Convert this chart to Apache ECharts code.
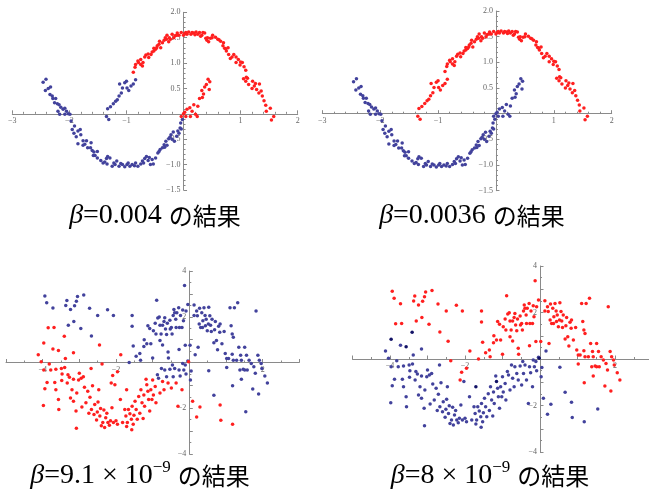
<!DOCTYPE html>
<html>
<head>
<meta charset="utf-8">
<script src="https://cdn.jsdelivr.net/npm/echarts@6/dist/echarts.min.js"></script>
<style>
  html, body { margin: 0; padding: 0; background: #fff; }
  #chart { width: 649px; height: 496px; }
</style>
</head>
<body>
<div id="chart"></div>
<script>
  // ---- top pair (same points, two clusterings) ----
  const upperMoonMain = [
    [-0.88,0.82],[-0.85,0.92],[-0.84,0.97],[-0.79,1.01],[-0.75,0.97],[-0.72,0.94],[-0.71,1.01],[-0.75,1.07],
    [-0.66,1.16],[-0.61,1.11],[-0.57,1.17],[-0.52,1.24],[-0.52,1.29],[-0.49,1.27],[-0.46,1.34],[-0.43,1.37],
    [-0.42,1.43],[-0.4,1.3],[-0.34,1.45],[-0.32,1.5],[-0.29,1.55],[-0.26,1.42],[-0.23,1.47],[-0.2,1.57],
    [-0.17,1.5],[-0.15,1.54],[-0.11,1.59],[-0.08,1.55],[-0.04,1.6],[0.02,1.58],[0.06,1.57],[0.09,1.61],
    [0.13,1.57],[0.18,1.59],[0.22,1.61],[0.25,1.57],[0.3,1.53],[0.34,1.6],[0.37,1.59],[0.39,1.49],
    [0.41,1.45],[0.44,1.42],[0.47,1.49],[0.51,1.55],[0.56,1.51],[0.65,1.43],[0.69,1.34],[0.72,1.29],
    [0.75,1.24],[0.78,1.3],[0.79,1.17],[0.82,1.09],[0.88,1.17],[0.92,1.01],[0.96,1.07],[0.99,0.96],
    [1.03,1.01],[1.06,0.93],[1.09,0.86],[1.05,0.69],[1.09,0.64],[1.14,0.58],[1.21,0.64],[1.24,0.55],
    [1.28,0.48],[1.33,0.59],[1.32,0.41],[1.38,0.35],[1.41,0.26],[1.44,0.17],[1.45,0.05],[1.52,0.11],
    [1.54,-0.12],[1.58,-0.05],[-0.3,1.47],[-0.12,1.55],[0.0,1.55],[0.15,1.6],[0.28,1.6],[0.42,1.5],
    [0.6,1.47],[0.7,1.4],[1.0,1.02],[1.1,0.72],[1.2,0.5],[0.85,1.12],[-0.62,1.18],[-0.55,1.22],[-0.37,1.4],
    [-0.8,1.04],[-0.68,1.12],[-0.47,1.3],[-0.25,1.5],[0.04,1.6],[0.2,1.56],[0.32,1.55],[0.5,1.5],
    [0.62,1.46],[0.74,1.28],[0.92,1.12],[1.12,0.7],[1.26,0.6],[1.36,0.45]
  ];
  const upperMoonTail = [
    [-1.35,-0.05],[-1.31,-0.11],[-1.33,0.1],[-1.28,0.14],[-1.23,0.2],[-1.19,0.25],[-1.16,0.28],[-1.13,0.35],
    [-1.09,0.41],[-1.12,0.59],[-1.07,0.51],[-1.03,0.61],[-1.0,0.64],[-0.99,0.51],[-0.96,0.46],[-0.92,0.55],
    [-0.88,0.59],[-0.84,0.67]
  ];
  const lowerMoonMain = [
    [-2.46,0.62],[-2.41,0.68],[-2.42,0.46],[-2.33,0.53],[-2.34,0.38],[-2.3,0.35],[-2.29,0.3],[-2.24,0.3],
    [-2.21,0.2],[-2.18,0.18],[-2.15,0.13],[-2.2,0.05],[-2.17,-0.01],[-2.11,0.09],[-2.08,0.11],[-2.05,0.05],
    [-2.02,0],[-2.08,-0.01],[-1.99,-0.01],[-1.97,-0.14],[-1.91,-0.24],[-1.95,-0.31],[-1.92,-0.38],[-1.85,-0.34],
    [-1.8,-0.41],[-1.81,-0.31],[-1.85,-0.59],[-1.76,-0.53],[-1.76,-0.62],[-1.7,-0.53],[-1.68,-0.67],[-1.63,-0.67],
    [-1.62,-0.57],[-1.57,-0.75],[-1.55,-0.82],[-1.51,-0.87],[-1.51,-0.74],[-1.58,-0.82],[-1.41,-0.97],[-1.35,-0.88],
    [-1.33,-0.84],[-1.29,-0.87],[-1.34,-0.99],[-1.25,-1.03],[-1.22,-0.97],[-1.17,-0.93],[-1.13,-1.03],[-1.07,-1.0],
    [-1.03,-1.04],[-0.99,-1.0],[-0.94,-1.03],[-0.9,-1.0],[-0.84,-0.97],[-0.8,-1.03],[-0.75,-0.99],[-0.72,-0.93],
    [-0.68,-0.88],[-0.65,-0.84],[-0.62,-0.92],[-0.58,-1.0],[-0.53,-0.99],[-0.49,-0.87],[-0.45,-0.77],[-0.41,-0.7],
    [-0.37,-0.67],[-0.34,-0.61],[-0.31,-0.54],[-0.29,-0.62],[-0.26,-0.49],[-0.22,-0.41],[-0.18,-0.36],[-0.16,-0.54],
    [-0.12,-0.44],[-0.1,-0.34],[-0.06,-0.28],[-0.05,-0.18],[-0.02,-0.11],
    [-1.45,-0.92],[-1.38,-0.95],[-1.2,-1.0],[-1.1,-0.98],[-0.97,-0.97],[-0.86,-1.02],[-0.7,-0.97],[-0.6,-0.86],
    [-0.55,-0.9],[-0.43,-0.74],[-0.33,-0.66],[-0.24,-0.46],[-0.2,-0.5],[-0.08,-0.38],[-0.04,-0.3],[-1.88,-0.45],
    [-1.73,-0.6],[-1.6,-0.72],[-2.26,0.22],[-2.37,0.5]
  ];
  const lowerMoonTail = [
    [-0.04,-0.05],[0,0],[0.02,0.03],[0.04,-0.05],[0.06,0.09],[0.11,0.12],[0.15,0.05],[0.18,0.18],
    [0.21,-0.01],[0.25,0.15],[0.28,0.3],[0.33,0.32],[0.35,0.39],[0.32,0.46],[0.37,0.53],[0.4,0.58],
    [0.45,0.48],[0.43,0.68],[0.46,0.63],[0.12,-0.05],[0.24,-0.05]
  ];

  // ---- bottom pair (same points, colours mostly swapped) ----
  const upperCloud = [
    [-3.94,2.91],[-3.89,2.61],[-3.72,2.38],[-3.34,2.71],[-3.37,2.49],[-3.24,2.32],[-3.13,2.48],[-3.05,2.88],
    [-3.08,2.68],[-2.88,2.95],[-3.15,1.79],[-3.3,1.63],[-2.96,1.49],[-2.72,2.37],[-2.67,1.16],[-2.5,2.06],
    [-2.23,2.31],[-2.07,2.06],[-1.56,2.06],[-1.56,1.59],
    [-1.64,0],[-1.53,0.72],[-1.45,0.27],[-1.35,0.39],[-1.33,0.1],[-1.24,0.7],[-1.23,1.0],[-1.13,1.61],
    [-1.16,0.82],[-1.08,1.49],[-1.05,0.82],[-1.0,0.2],[-0.98,1.39],[-0.93,1.72],[-0.91,1.25],[-0.89,2.72],
    [-0.86,1.94],[-0.82,1.99],[-0.8,1.63],[-0.8,0.96],[-0.77,1.25],[-0.73,0.77],[-0.73,1.63],[-0.69,1.79],
    [-0.67,1.96],[-0.65,1.46],[-0.62,1.22],[-0.6,1.72],[-0.58,0.46],[-0.57,0.2],[-0.53,1.85],[-0.52,1.46],
    [-0.49,1.53],[-0.47,1.25],[-0.44,2.06],[-0.42,2.32],[-0.4,2.18],[-0.37,1.89],[-0.36,1.53],[-0.34,2.18],
    [-0.29,2.39],[-0.28,0.57],[-0.27,1.53],[-0.24,2.06],[-0.2,1.53],[-0.18,2.29],[-0.16,1.82],[-0.13,3.37],
    [-0.11,0.75],[-0.09,2.25],[-0.04,2.54],[0.02,0.75],
    [0.13,2.06],[0.13,2.51],[0.2,2.25],[0.22,2.04],[0.24,0.67],[0.27,1.68],[0.28,2.37],[0.31,1.53],
    [0.34,2.18],[0.36,1.53],[0.37,1.82],[0.4,2.39],[0.43,2.06],[0.44,1.61],[0.46,1.89],[0.49,1.39],
    [0.52,1.68],[0.53,2.42],[0.56,2.04],[0.58,1.63],[0.6,1.36],[0.62,1.89],[0.67,0.86],[0.69,1.43],
    [0.71,1.79],[0.74,0.96],[0.77,0.56],[0.8,1.58],[0.83,1.32],[0.84,1.68],[0.89,0.82],[0.95,1.36],
    [0.98,0.39],[1.02,0.17],[1.02,-0.22],[1.07,0.17],[1.11,2.39],[1.14,1.61],[1.17,1.25],[1.2,1.1],
    [1.17,0.36],[1.2,0.1],[1.23,2.39],[1.29,0.1],[1.32,2.61],[1.35,0.67],[1.4,0.32],[1.42,0.1],
    [1.42,-0.73],[1.38,-0.33],[1.47,-0.3],[1.51,0.67],[1.51,-0.33],[1.56,0.32],[1.58,-0.33],[1.63,0.1],
    [1.69,-0.04],[1.73,-1.16],[1.76,-0.19],[1.8,-0.47],[1.82,2.25],[1.87,0.32],[1.89,-1.38],[1.91,0.1],
    [1.96,-0.04],[1.98,-0.26],[2.06,-0.59],[2.13,-0.9],[1.18,-1.02]
  ];
  const lowerCloud = [
    [-4.12,0.34],[-4.04,0.03],[-3.72,0.59],[-3.16,0.43],[-3.38,0.17],[-3.97,-0.33],[-3.78,-0.33],[-3.64,-0.3],
    [-3.49,-0.26],[-3.4,-0.22],[-3.82,-0.07],[-3.88,-0.87],[-3.94,-1.15],[-3.98,-1.88],[-3.67,-0.87],[-3.64,-1.19],
    [-3.57,-1.62],[-3.56,-2.05],[-3.48,-0.79],[-3.47,-0.5],[-3.31,-0.54],[-3.33,-0.9],[-3.27,-0.65],[-3.24,-1.55],
    [-3.2,-1.19],[-3.16,-1.69],[-3.16,-0.73],[-3.09,-2.12],[-3.08,-2.87],[-3.07,-1.33],[-3.02,-0.76],[-3.0,-0.47],
    [-2.95,-0.69],[-2.93,-1.94],[-2.89,-0.62],[-2.86,-1.08],[-2.82,-1.76],[-2.77,-1.26],[-2.74,-2.22],[-2.71,-1.52],
    [-2.68,-0.26],[-2.67,-2.05],[-2.64,-1.02],[-2.6,-2.27],[-2.58,-1.84],[-2.53,-2.51],[-2.51,-2.16],[-2.49,-1.73],
    [-2.47,-1.19],[-2.44,-2.34],[-2.42,-2.01],[-2.4,-2.77],[-2.36,-2.62],[-2.33,-2.08],[-2.31,-2.84],[-2.28,-2.41],
    [-2.25,-2.22],[-2.22,-2.62],[-2.18,-2.74],[-2.15,-2.55],[-2.11,-1.98],[-2.07,-2.62],[-2.03,-0.97],[-2.0,-2.55],
    [-1.96,-2.7],[-1.88,-1.62],[-1.82,-2.62],[-1.76,-2.05],[-1.73,-2.34],[-1.71,-2.8],[-1.69,-2.62],[-1.66,-2.05],
    [-1.62,-2.24],[-1.58,-2.48],[-1.57,-2.94],[-1.56,-1.91],[-1.53,-2.7],[-1.51,-2.31],[-1.48,-1.69],[-1.45,-2.05],
    [-1.42,-2.48],[-1.38,-1.49],[-1.35,-2.22],[-1.32,-1.19],[-1.29,-1.76],[-1.26,-2.45],[-1.24,-1.42],[-1.22,-1.91],
    [-1.18,-0.73],[-1.13,-1.26],[-1.11,-1.62],[-1.08,-2.12],[-1.05,-1.19],[-1.02,-1.62],[-1.0,-0.76],[-0.98,-1.42],
    [-0.93,-1.05],[-0.91,-1.76],[-0.8,-1.33],[-0.73,-0.83],[-0.69,-1.19],[-0.58,-0.9],[-0.49,-1.12],[-0.36,-0.9],
    [-0.31,-1.91],[-0.2,-1.19],[0.09,-1.69],[0.2,-2.38],[0.29,-1.95],[0.84,-1.86],[0.86,-2.52],[1.18,-2.7]
  ];
  const bothRed = [
    [-3.85,1.52],[-3.69,1.53],[-2.45,0.76],[-1.87,0.34],[-2.38,-0.07],[-2.09,-0.57],[-2.13,-0.9],[-1.96,-0.4]
  ];
  const bothBlue = [
    [-0.87,-0.54],[-0.84,-0.69],[-0.76,-0.26],[-0.67,-0.33],[-0.62,-0.62],[-0.53,-0.3],[-0.46,-0.11],[-0.44,-0.62],
    [-0.4,-0.26],[-0.28,-0.33],[-0.25,-0.59],[-0.18,-0.04],[-0.15,-0.33],[-0.11,-0.11],[-0.09,-0.5],[-0.04,0.07],
    [0.03,-0.76],[0.05,-0.37],[0.16,0.34],[0.53,-0.36],[0.67,-1.43],[1.54,-2.15]
  ];
  const navyPts = [
    [-3.41,1.15],[-3.97,0.85],[-3.57,0.53],[-0.02,0.03],[-1.71,-1.19],[-1.16,-0.97]
  ];

  const captions = [
    '{b|β}{n|=0.004 }{j|の結果}',
    '{b|β}{n|=0.0036 }{j|の結果}',
    '{b|β}{n|=9.1 × 10}{s|−9}{n| }{j|の結果}',
    '{b|β}{n|=8 × 10}{s|−9}{n| }{j|の結果}'
  ];

  const RED = '#ff1f1f';
  const BLUE = '#42429c';
  const NAVY = '#121266';
  const AXIS = '#8a8a8a';
  const SERIF = "'Liberation Serif', 'DejaVu Serif', serif";

  const minus = (s) => String(s).replace('-', '−');
  const fmtTop = (v) => (v === 0 ? '' : minus(v));
  const fmtTopY = (v) => (v === 0 ? '' : minus(v.toFixed(1)));
  const fmtEven = (v) => (v !== 0 && v % 2 === 0 ? minus(v) : '');

  // grid boxes [left, top, width, height] and axis ranges
  const boxes = [
    [12.3, 12.3, 285.4, 177.7],
    [322.3, 11, 289.4, 179.7],
    [6, 271, 293.3, 183],
    [352.5, 266, 300, 186],
  ];
  const xr = [[-3, 2, 1, 5, fmtTop], [-3, 2, 1, 5, fmtTop], [-5, 3, 1, 2, fmtEven], [-5, 3, 1, 2, fmtEven]];
  const yr = [[-1.5, 2, 0.5, 5, fmtTopY], [-1.5, 2, 0.5, 5, fmtTopY], [-4, 4, 1, 2, fmtEven], [-4, 4, 1, 2, fmtEven]];

  // axes cross at the origin (Mathematica style): shift them in from the grid edge
  function axis(gridIndex, isX, [min, max, interval, minorSplit, fmt]) {
    const size = isX ? boxes[gridIndex][3] : boxes[gridIndex][2];
    const other = isX ? yr[gridIndex] : xr[gridIndex];
    const offset = -size * (0 - other[0]) / (other[1] - other[0]);
    return {
      type: 'value',
      gridIndex,
      position: isX ? 'bottom' : 'left',
      offset,
      min,
      max,
      interval,
      axisLine: { onZero: false, lineStyle: { color: AXIS, width: 1 } },
      axisTick: { inside: true, length: 3.5, lineStyle: { color: AXIS } },
      minorTick: { show: true, splitNumber: minorSplit, length: 2, lineStyle: { color: AXIS } },
      splitLine: { show: false },
      axisLabel: {
        fontSize: 8,
        fontFamily: SERIF,
        color: '#666',
        margin: 3,
        showMinLabel: true,
        showMaxLabel: true,
        formatter: fmt,
      },
    };
  }

  const dot = (xi, data, color) => ({
    type: 'scatter',
    xAxisIndex: xi,
    yAxisIndex: xi,
    data,
    symbolSize: 3.5,
    itemStyle: { color, opacity: 1 },
    silent: true,
  });

  const rich = {
    b: { fontFamily: SERIF, fontStyle: 'italic', fontSize: 28, lineHeight: 34, fill: '#000' },
    n: { fontFamily: SERIF, fontSize: 28, lineHeight: 34, fill: '#000' },
    s: { fontFamily: SERIF, fontSize: 17, lineHeight: 17, verticalAlign: 'top', fill: '#000' },
    j: { fontFamily: "'Noto Sans CJK JP'", fontSize: 24, lineHeight: 34, fill: '#000' },
  };
  const capPos = [[155, 216], [472, 216], [140, 476], [490, 476]];

  const chart = echarts.init(document.getElementById('chart'));
  chart.setOption({
    animation: false,
    backgroundColor: '#fff',
    grid: boxes.map(([left, top, width, height]) => ({ left, top, width, height, outerBoundsMode: 'none' })),
    xAxis: xr.map((r, i) => axis(i, true, r)),
    yAxis: yr.map((r, i) => axis(i, false, r)),
    series: [
      // beta = 0.004
      dot(0, [...lowerMoonMain, ...upperMoonTail], BLUE),
      dot(0, [...upperMoonMain, ...lowerMoonTail], RED),
      // beta = 0.0036
      dot(1, [...lowerMoonMain, ...lowerMoonTail], BLUE),
      dot(1, [...upperMoonMain, ...upperMoonTail], RED),
      // beta = 9.1e-9
      dot(2, [...upperCloud, ...bothBlue], BLUE),
      dot(2, [...lowerCloud, ...bothRed, ...navyPts], RED),
      // beta = 8e-9
      dot(3, [...lowerCloud, ...bothBlue], BLUE),
      dot(3, [...upperCloud, ...bothRed], RED),
      dot(3, navyPts, NAVY),
    ],
    graphic: captions.map((text, i) => ({
      type: 'text',
      x: capPos[i][0],
      y: capPos[i][1],
      style: { text, align: 'center', verticalAlign: 'middle', rich },
    })),
  });
</script>
</body>
</html>
